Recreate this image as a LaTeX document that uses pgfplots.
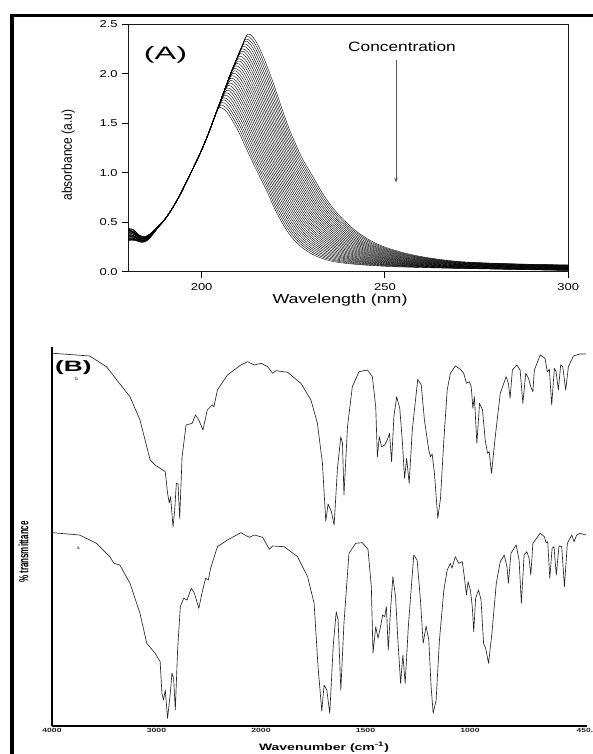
\documentclass[border=0pt]{standalone}
\usepackage{fontspec}
\setmainfont{Liberation Sans}
\usepackage{graphicx}
\usepackage{pgfplots}
\pgfplotsset{compat=1.18}
\usetikzlibrary{arrows.meta}
\newcommand{\hs}[2]{\scalebox{#1}[1]{#2}}
\tikzset{uv/.style={black, line width=0.4pt, smooth, tension=0.55},
         ir/.style={black!85, line width=0.65pt, line join=round}}
\begin{document}
\begin{tikzpicture}[x=1pt,y=1pt]

% ---------------- Panel A ----------------
\begin{axis}[at={(128.3pt,482.3pt)}, anchor=south west, scale only axis,
  width=440pt, height=247.4pt,
  xmin=180, xmax=300, ymin=0, ymax=2.5,
  xtick={200,250,300}, xticklabels={\hs{1.3}{200},\hs{1.3}{250},\hs{1.3}{300}},
  ytick={0,0.5,1,1.5,2,2.5},
  yticklabels={\hs{1.3}{0.0},\hs{1.3}{0.5},\hs{1.3}{1.0},\hs{1.3}{1.5},\hs{1.3}{2.0},\hs{1.3}{2.5}},
  tick align=outside, major tick length=6.5pt,
  xtick pos=lower, ytick pos=left,
  tick style={line width=1pt, black},
  axis line style={line width=1.2pt, black!90},
  tick label style={font=\fontsize{10}{12}\selectfont},
  xticklabel style={yshift=-2pt},
  yticklabel style={inner sep=4pt},
]
% main family
\addplot[uv] coordinates {(180,0.323)(181.5,0.335)(183,0.307)(184.5,0.306)(186,0.349)(188,0.442)(190,0.53)(192,0.64)(194,0.77)(196,0.92)(198,1.07)(200,1.23)(202,1.41)(204,1.61)(205,1.660)(206.5,1.630)(208,1.550)(210,1.420)(212,1.260)(214,1.100)(216,0.950)(218,0.800)(220,0.630)(223,0.430)(226,0.290)(230,0.180)(235,0.110)(241,0.078)(250,0.055)(262,0.040)(277,0.028)(300,0.012)};
\addplot[uv] coordinates {(180,0.427)(181.5,0.395)(183,0.363)(184.5,0.350)(186,0.381)(188,0.454)(190,0.53)(192,0.64)(194,0.77)(196,0.92)(198,1.07)(200,1.23)(202,1.41)(204,1.61)(205.5,1.709)(207,1.679)(208.5,1.599)(210.5,1.466)(212.5,1.303)(214.5,1.139)(216.5,0.985)(218.5,0.833)(220.5,0.664)(223.5,0.465)(226.5,0.321)(230.5,0.206)(235.5,0.129)(241.5,0.091)(250.5,0.063)(262.5,0.044)(277.5,0.031)(300,0.016)};
\addplot[uv] coordinates {(180,0.362)(181.5,0.365)(183,0.328)(184.5,0.322)(186,0.361)(188,0.446)(190,0.53)(192,0.64)(194,0.77)(196,0.92)(198,1.07)(200,1.23)(202,1.41)(204,1.61)(205,1.71)(206,1.759)(207.5,1.729)(209,1.647)(211,1.512)(213,1.347)(215,1.179)(217,1.021)(219,0.867)(221,0.698)(224,0.499)(227,0.353)(231,0.232)(236,0.149)(242,0.104)(251,0.070)(263,0.049)(278,0.035)(300,0.019)};
\addplot[uv] coordinates {(180,0.401)(181.5,0.375)(183,0.349)(184.5,0.339)(186,0.373)(188,0.451)(190,0.53)(192,0.64)(194,0.77)(196,0.92)(198,1.07)(200,1.23)(202,1.41)(204,1.61)(205,1.71)(206.5,1.808)(208,1.778)(209.5,1.696)(211.5,1.558)(213.5,1.390)(215.5,1.218)(217.5,1.056)(219.5,0.900)(221.5,0.732)(224.5,0.534)(227.5,0.384)(231.5,0.258)(236.5,0.168)(242.5,0.116)(251.5,0.078)(263.5,0.053)(278.5,0.038)(300,0.023)};
\addplot[uv] coordinates {(180,0.310)(181.5,0.325)(183,0.300)(184.5,0.300)(186,0.345)(188,0.440)(190,0.53)(192,0.64)(194,0.77)(196,0.92)(198,1.07)(200,1.23)(202,1.41)(204,1.61)(205,1.71)(206,1.81)(207,1.857)(208.5,1.827)(210,1.745)(212,1.604)(214,1.433)(216,1.257)(218,1.091)(220,0.933)(222,0.766)(225,0.569)(228,0.415)(232,0.284)(237,0.187)(243,0.129)(252,0.086)(264,0.057)(279,0.042)(300,0.027)};
\addplot[uv] coordinates {(180,0.382)(181.5,0.360)(183,0.339)(184.5,0.330)(186,0.367)(188,0.448)(190,0.53)(192,0.64)(194,0.77)(196,0.92)(198,1.07)(200,1.23)(202,1.41)(204,1.61)(205,1.71)(206,1.81)(207.5,1.907)(209,1.877)(210.5,1.793)(212.5,1.650)(214.5,1.477)(216.5,1.297)(218.5,1.127)(220.5,0.967)(222.5,0.800)(225.5,0.603)(228.5,0.447)(232.5,0.310)(237.5,0.207)(243.5,0.142)(252.5,0.093)(264.5,0.062)(279.5,0.045)(300,0.031)};
\addplot[uv] coordinates {(180,0.440)(181.5,0.425)(183,0.370)(184.5,0.355)(186,0.385)(188,0.455)(190,0.53)(192,0.64)(194,0.77)(196,0.92)(198,1.07)(200,1.23)(202,1.41)(204,1.61)(205,1.71)(206,1.81)(207,1.91)(208,1.956)(209.5,1.926)(211,1.842)(213,1.696)(215,1.520)(217,1.336)(219,1.162)(221,1.000)(223,0.834)(226,0.638)(229,0.478)(233,0.336)(238,0.226)(244,0.155)(253,0.101)(265,0.066)(280,0.049)(300,0.034)};
\addplot[uv] coordinates {(180,0.343)(181.5,0.330)(183,0.318)(184.5,0.314)(186,0.355)(188,0.444)(190,0.53)(192,0.64)(194,0.77)(196,0.92)(198,1.07)(200,1.23)(202,1.41)(204,1.61)(205,1.71)(206,1.81)(207,1.91)(208.5,2.005)(210,1.975)(211.5,1.891)(213.5,1.742)(215.5,1.563)(217.5,1.375)(219.5,1.197)(221.5,1.033)(223.5,0.868)(226.5,0.673)(229.5,0.509)(233.5,0.362)(238.5,0.245)(244.5,0.168)(253.5,0.109)(265.5,0.070)(280.5,0.052)(300,0.038)};
\addplot[uv] coordinates {(180,0.414)(181.5,0.405)(183,0.356)(184.5,0.344)(186,0.377)(188,0.452)(190,0.53)(192,0.64)(194,0.77)(196,0.92)(198,1.07)(200,1.23)(202,1.41)(204,1.61)(205,1.71)(206,1.81)(207,1.91)(208,2.01)(209,2.055)(210.5,2.025)(212,1.939)(214,1.788)(216,1.607)(218,1.415)(220,1.233)(222,1.067)(224,0.902)(227,0.707)(230,0.541)(234,0.388)(239,0.265)(245,0.180)(254,0.116)(266,0.075)(281,0.056)(300,0.042)};
\addplot[uv] coordinates {(180,0.356)(181.5,0.340)(183,0.325)(184.5,0.319)(186,0.359)(188,0.445)(190,0.53)(192,0.64)(194,0.77)(196,0.92)(198,1.07)(200,1.23)(202,1.41)(204,1.61)(205,1.71)(206,1.81)(207,1.91)(208,2.01)(209.5,2.104)(211,2.074)(212.5,1.988)(214.5,1.834)(216.5,1.650)(218.5,1.454)(220.5,1.268)(222.5,1.100)(224.5,0.936)(227.5,0.742)(230.5,0.572)(234.5,0.414)(239.5,0.284)(245.5,0.193)(254.5,0.124)(266.5,0.079)(281.5,0.059)(300,0.046)};
\addplot[uv] coordinates {(180,0.388)(181.5,0.385)(183,0.342)(184.5,0.333)(186,0.369)(188,0.449)(190,0.53)(192,0.64)(194,0.77)(196,0.92)(198,1.07)(200,1.23)(202,1.41)(204,1.61)(205,1.71)(206,1.81)(207,1.91)(208,2.01)(209,2.10)(210,2.153)(211.5,2.123)(213,2.037)(215,1.880)(217,1.693)(219,1.493)(221,1.303)(223,1.133)(225,0.970)(228,0.777)(231,0.603)(235,0.440)(240,0.303)(246,0.206)(255,0.132)(267,0.083)(282,0.063)(300,0.049)};
\addplot[uv] coordinates {(180,0.330)(181.5,0.320)(183,0.311)(184.5,0.308)(186,0.351)(188,0.442)(190,0.53)(192,0.64)(194,0.77)(196,0.92)(198,1.07)(200,1.23)(202,1.41)(204,1.61)(205,1.71)(206,1.81)(207,1.91)(208,2.01)(209,2.10)(210.5,2.203)(212,2.173)(213.5,2.085)(215.5,1.926)(217.5,1.737)(219.5,1.533)(221.5,1.339)(223.5,1.167)(225.5,1.004)(228.5,0.811)(231.5,0.635)(235.5,0.466)(240.5,0.323)(246.5,0.219)(255.5,0.139)(267.5,0.088)(282.5,0.066)(300,0.053)};
\addplot[uv] coordinates {(180,0.434)(181.5,0.420)(183,0.367)(184.5,0.352)(186,0.383)(188,0.454)(190,0.53)(192,0.64)(194,0.77)(196,0.92)(198,1.07)(200,1.23)(202,1.41)(204,1.61)(205,1.71)(206,1.81)(207,1.91)(208,2.01)(209,2.10)(210,2.19)(211,2.252)(212.5,2.222)(214,2.134)(216,1.972)(218,1.780)(220,1.572)(222,1.374)(224,1.200)(226,1.038)(229,0.846)(232,0.666)(236,0.492)(241,0.342)(247,0.232)(256,0.147)(268,0.092)(283,0.070)(300,0.057)};
\addplot[uv] coordinates {(180,0.369)(181.5,0.350)(183,0.332)(184.5,0.325)(186,0.363)(188,0.447)(190,0.53)(192,0.64)(194,0.77)(196,0.92)(198,1.07)(200,1.23)(202,1.41)(204,1.61)(205,1.71)(206,1.81)(207,1.91)(208,2.01)(209,2.10)(210,2.19)(211.5,2.301)(213,2.271)(214.5,2.183)(216.5,2.018)(218.5,1.823)(220.5,1.611)(222.5,1.409)(224.5,1.233)(226.5,1.072)(229.5,0.881)(232.5,0.697)(236.5,0.518)(241.5,0.361)(247.5,0.244)(256.5,0.155)(268.5,0.096)(283.5,0.073)(300,0.060)};
\addplot[uv] coordinates {(180,0.408)(181.5,0.400)(183,0.353)(184.5,0.341)(186,0.375)(188,0.451)(190,0.53)(192,0.64)(194,0.77)(196,0.92)(198,1.07)(200,1.23)(202,1.41)(204,1.61)(205,1.71)(206,1.81)(207,1.91)(208,2.01)(209,2.10)(210,2.19)(211,2.28)(212,2.351)(213.5,2.321)(215,2.231)(217,2.064)(219,1.867)(221,1.651)(223,1.445)(225,1.267)(227,1.106)(230,0.915)(233,0.729)(237,0.544)(242,0.381)(248,0.257)(257,0.162)(269,0.101)(284,0.077)(300,0.064)};
\addplot[uv] coordinates {(180,0.336)(181.5,0.325)(183,0.314)(184.5,0.311)(186,0.353)(188,0.443)(190,0.53)(192,0.64)(194,0.77)(196,0.92)(198,1.07)(200,1.23)(202,1.41)(204,1.61)(205,1.71)(206,1.81)(207,1.91)(208,2.01)(209,2.10)(210,2.19)(211,2.28)(212.5,2.400)(214,2.370)(215.5,2.280)(217.5,2.110)(219.5,1.910)(221.5,1.690)(223.5,1.480)(225.5,1.300)(227.5,1.140)(230.5,0.950)(233.5,0.760)(237.5,0.570)(242.5,0.400)(248.5,0.270)(257.5,0.170)(269.5,0.105)(284.5,0.080)(300,0.068)};
% intermediate spectra
\addplot[uv] coordinates {(180,0.388)(181.5,0.365)(183,0.342)(184.5,0.333)(186,0.369)(188,0.449)(190,0.53)(192,0.64)(194,0.77)(196,0.92)(198,1.07)(200,1.23)(202,1.41)(204,1.61)(205.25,1.685)(206.75,1.655)(208.25,1.574)(210.25,1.443)(212.25,1.282)(214.25,1.120)(216.25,0.968)(218.25,0.817)(220.25,0.647)(223.25,0.447)(226.25,0.306)(230.25,0.193)(235.25,0.120)(241.25,0.084)(250.25,0.059)(262.25,0.042)(277.25,0.030)(300,0.014)};
\addplot[uv] coordinates {(180,0.349)(181.5,0.355)(183,0.321)(184.5,0.317)(186,0.357)(188,0.445)(190,0.53)(192,0.64)(194,0.77)(196,0.92)(198,1.07)(200,1.23)(202,1.41)(204,1.61)(205.75,1.734)(207.25,1.704)(208.75,1.623)(210.75,1.489)(212.75,1.325)(214.75,1.159)(216.75,1.003)(218.75,0.850)(220.75,0.681)(223.75,0.482)(226.75,0.337)(230.75,0.219)(235.75,0.139)(241.75,0.097)(250.75,0.067)(262.75,0.046)(277.75,0.033)(300,0.018)};
\addplot[uv] coordinates {(180,0.421)(181.5,0.390)(183,0.360)(184.5,0.347)(186,0.379)(188,0.453)(190,0.53)(192,0.64)(194,0.77)(196,0.92)(198,1.07)(200,1.23)(202,1.41)(204,1.61)(205,1.71)(206.25,1.784)(207.75,1.754)(209.25,1.671)(211.25,1.535)(213.25,1.369)(215.25,1.199)(217.25,1.039)(219.25,0.884)(221.25,0.715)(224.25,0.516)(227.25,0.369)(231.25,0.245)(236.25,0.159)(242.25,0.110)(251.25,0.074)(263.25,0.051)(278.25,0.037)(300,0.021)};
\addplot[uv] coordinates {(180,0.317)(181.5,0.330)(183,0.304)(184.5,0.303)(186,0.347)(188,0.441)(190,0.53)(192,0.64)(194,0.77)(196,0.92)(198,1.07)(200,1.23)(202,1.41)(204,1.61)(205,1.71)(206.75,1.833)(208.25,1.803)(209.75,1.720)(211.75,1.581)(213.75,1.412)(215.75,1.238)(217.75,1.074)(219.75,0.917)(221.75,0.749)(224.75,0.551)(227.75,0.400)(231.75,0.271)(236.75,0.178)(242.75,0.122)(251.75,0.082)(263.75,0.055)(278.75,0.040)(300,0.025)};
\addplot[uv] coordinates {(180,0.375)(181.5,0.355)(183,0.335)(184.5,0.328)(186,0.365)(188,0.448)(190,0.53)(192,0.64)(194,0.77)(196,0.92)(198,1.07)(200,1.23)(202,1.41)(204,1.61)(205,1.71)(206,1.81)(207.25,1.882)(208.75,1.852)(210.25,1.769)(212.25,1.627)(214.25,1.455)(216.25,1.277)(218.25,1.109)(220.25,0.950)(222.25,0.783)(225.25,0.586)(228.25,0.431)(232.25,0.297)(237.25,0.197)(243.25,0.135)(252.25,0.090)(264.25,0.059)(279.25,0.044)(300,0.029)};
\addplot[uv] coordinates {(180,0.401)(181.5,0.395)(183,0.349)(184.5,0.339)(186,0.373)(188,0.451)(190,0.53)(192,0.64)(194,0.77)(196,0.92)(198,1.07)(200,1.23)(202,1.41)(204,1.61)(205,1.71)(206,1.81)(207.75,1.932)(209.25,1.902)(210.75,1.817)(212.75,1.673)(214.75,1.499)(216.75,1.317)(218.75,1.145)(220.75,0.984)(222.75,0.817)(225.75,0.620)(228.75,0.463)(232.75,0.323)(237.75,0.217)(243.75,0.148)(252.75,0.097)(264.75,0.064)(279.75,0.047)(300,0.033)};
\addplot[uv] coordinates {(180,0.336)(181.5,0.325)(183,0.314)(184.5,0.311)(186,0.353)(188,0.443)(190,0.53)(192,0.64)(194,0.77)(196,0.92)(198,1.07)(200,1.23)(202,1.41)(204,1.61)(205,1.71)(206,1.81)(207,1.91)(208.25,1.981)(209.75,1.951)(211.25,1.866)(213.25,1.719)(215.25,1.542)(217.25,1.356)(219.25,1.180)(221.25,1.017)(223.25,0.851)(226.25,0.655)(229.25,0.494)(233.25,0.349)(238.25,0.236)(244.25,0.161)(253.25,0.105)(265.25,0.068)(280.25,0.051)(300,0.036)};
\addplot[uv] coordinates {(180,0.427)(181.5,0.415)(183,0.363)(184.5,0.350)(186,0.381)(188,0.454)(190,0.53)(192,0.64)(194,0.77)(196,0.92)(198,1.07)(200,1.23)(202,1.41)(204,1.61)(205,1.71)(206,1.81)(207,1.91)(208.75,2.030)(210.25,2.000)(211.75,1.915)(213.75,1.765)(215.75,1.585)(217.75,1.395)(219.75,1.215)(221.75,1.050)(223.75,0.885)(226.75,0.690)(229.75,0.525)(233.75,0.375)(238.75,0.255)(244.75,0.174)(253.75,0.113)(265.75,0.072)(280.75,0.054)(300,0.040)};
\addplot[uv] coordinates {(180,0.362)(181.5,0.345)(183,0.328)(184.5,0.322)(186,0.361)(188,0.446)(190,0.53)(192,0.64)(194,0.77)(196,0.92)(198,1.07)(200,1.23)(202,1.41)(204,1.61)(205,1.71)(206,1.81)(207,1.91)(208,2.01)(209.25,2.080)(210.75,2.050)(212.25,1.963)(214.25,1.811)(216.25,1.629)(218.25,1.435)(220.25,1.251)(222.25,1.084)(224.25,0.919)(227.25,0.724)(230.25,0.557)(234.25,0.401)(239.25,0.275)(245.25,0.186)(254.25,0.120)(266.25,0.077)(281.25,0.058)(300,0.044)};
\addplot[uv] coordinates {(180,0.395)(181.5,0.390)(183,0.346)(184.5,0.336)(186,0.371)(188,0.450)(190,0.53)(192,0.64)(194,0.77)(196,0.92)(198,1.07)(200,1.23)(202,1.41)(204,1.61)(205,1.71)(206,1.81)(207,1.91)(208,2.01)(209.75,2.129)(211.25,2.099)(212.75,2.012)(214.75,1.857)(216.75,1.672)(218.75,1.474)(220.75,1.286)(222.75,1.117)(224.75,0.953)(227.75,0.759)(230.75,0.588)(234.75,0.427)(239.75,0.294)(245.75,0.199)(254.75,0.128)(266.75,0.081)(281.75,0.061)(300,0.048)};
\addplot[uv] coordinates {(180,0.323)(181.5,0.315)(183,0.307)(184.5,0.306)(186,0.349)(188,0.442)(190,0.53)(192,0.64)(194,0.77)(196,0.92)(198,1.07)(200,1.23)(202,1.41)(204,1.61)(205,1.71)(206,1.81)(207,1.91)(208,2.01)(209,2.10)(210.25,2.178)(211.75,2.148)(213.25,2.061)(215.25,1.903)(217.25,1.715)(219.25,1.513)(221.25,1.321)(223.25,1.150)(225.25,0.987)(228.25,0.794)(231.25,0.619)(235.25,0.453)(240.25,0.313)(246.25,0.212)(255.25,0.136)(267.25,0.085)(282.25,0.065)(300,0.051)};
\addplot[uv] coordinates {(180,0.414)(181.5,0.405)(183,0.356)(184.5,0.344)(186,0.377)(188,0.452)(190,0.53)(192,0.64)(194,0.77)(196,0.92)(198,1.07)(200,1.23)(202,1.41)(204,1.61)(205,1.71)(206,1.81)(207,1.91)(208,2.01)(209,2.10)(210.75,2.228)(212.25,2.198)(213.75,2.109)(215.75,1.949)(217.75,1.759)(219.75,1.553)(221.75,1.357)(223.75,1.184)(225.75,1.021)(228.75,0.828)(231.75,0.651)(235.75,0.479)(240.75,0.333)(246.75,0.225)(255.75,0.143)(267.75,0.090)(282.75,0.068)(300,0.055)};
\addplot[uv] coordinates {(180,0.349)(181.5,0.335)(183,0.321)(184.5,0.317)(186,0.357)(188,0.445)(190,0.53)(192,0.64)(194,0.77)(196,0.92)(198,1.07)(200,1.23)(202,1.41)(204,1.61)(205,1.71)(206,1.81)(207,1.91)(208,2.01)(209,2.10)(210,2.19)(211.25,2.277)(212.75,2.247)(214.25,2.158)(216.25,1.995)(218.25,1.802)(220.25,1.592)(222.25,1.392)(224.25,1.217)(226.25,1.055)(229.25,0.863)(232.25,0.682)(236.25,0.505)(241.25,0.352)(247.25,0.238)(256.25,0.151)(268.25,0.094)(283.25,0.072)(300,0.059)};
\addplot[uv] coordinates {(180,0.382)(181.5,0.380)(183,0.339)(184.5,0.330)(186,0.367)(188,0.448)(190,0.53)(192,0.64)(194,0.77)(196,0.92)(198,1.07)(200,1.23)(202,1.41)(204,1.61)(205,1.71)(206,1.81)(207,1.91)(208,2.01)(209,2.10)(210,2.19)(211.75,2.326)(213.25,2.296)(214.75,2.207)(216.75,2.041)(218.75,1.845)(220.75,1.631)(222.75,1.427)(224.75,1.250)(226.75,1.089)(229.75,0.898)(232.75,0.713)(236.75,0.531)(241.75,0.371)(247.75,0.250)(256.75,0.159)(268.75,0.098)(283.75,0.075)(300,0.062)};
\addplot[uv] coordinates {(180,0.434)(181.5,0.400)(183,0.367)(184.5,0.352)(186,0.383)(188,0.454)(190,0.53)(192,0.64)(194,0.77)(196,0.92)(198,1.07)(200,1.23)(202,1.41)(204,1.61)(205,1.71)(206,1.81)(207,1.91)(208,2.01)(209,2.10)(210,2.19)(211,2.28)(212.25,2.376)(213.75,2.346)(215.25,2.255)(217.25,2.087)(219.25,1.889)(221.25,1.671)(223.25,1.463)(225.25,1.284)(227.25,1.123)(230.25,0.932)(233.25,0.745)(237.25,0.557)(242.25,0.391)(248.25,0.263)(257.25,0.166)(269.25,0.103)(284.25,0.079)(300,0.066)};
\end{axis}

% ---------------- Panel B ----------------
\begin{axis}[at={(52pt,28pt)}, anchor=south west, scale only axis,
  width=535pt, height=379pt,
  x coord trafo/.code={\pgfmathparse{ifthenelse(#1>=2000,(4000-#1)/1000,2+(2000-#1)/500)}},
  xmin=4000, xmax=440, ymin=0, ymax=379,
  axis lines*=left,
  axis line style={line width=2.2pt, black},
  ytick=\empty,
  xtick={4000,3000,2000,1500,1000,450},
  xticklabels={\hs{1.45}{4000},\hs{1.45}{3000},\hs{1.45}{2000},\hs{1.45}{1500},\hs{1.45}{1000},\hs{1.4}{450.}},
  major tick length=0pt,
  xticklabel style={font=\bfseries\fontsize{6}{7}\selectfont, text=black!85, inner sep=0pt, yshift=-2pt},
]
\addplot[ir] coordinates {(3990,372.7)(3640,370)(3479,359.3)(3367,344.3)(3254,329.3)(3158,306)(3061,266)(3013,261)(2916,254.3)(2894,233)(2878,223)(2865,229.3)(2842,199.3)(2827,214.3)(2810,242.7)(2794,242)(2778,207.7)(2755,269.3)(2717,301)(2659,302.7)(2627,311)(2595,306)(2556,296)(2514,316)(2466,321)(2450,319.3)(2417,336)(2321,351)(2193,361)(2128,364.3)(2064,361)(2000,362.7)(1968,359.3)(1944,352.7)(1928,355.3)(1873,353.7)(1809,342.7)(1761,326)(1730,302.7)(1706,262.7)(1690,205)(1679,222)(1663,214.3)(1650,201)(1634,258)(1618,289.3)(1610,282.7)(1603,231)(1586,299.3)(1563,339.3)(1531,354.3)(1491,356)(1467,349.3)(1451,319.3)(1443,269.3)(1434,289.3)(1423,279.3)(1408,281)(1396,286)(1385,292.7)(1375,264.3)(1364,309.3)(1351,329.3)(1336,317.7)(1324,286)(1313,247.7)(1303,267.7)(1291,242.7)(1276,296)(1250,346.7)(1233,341)(1218,306)(1197,276)(1189,269.3)(1181,272)(1170,252.7)(1154,207.7)(1141,227.7)(1125,286)(1109,336)(1094,352.7)(1070,360)(1046,356.7)(1030,352.7)(1017,342.7)(1003,344.3)(994,339.3)(986,317.7)(979,329.3)(967,282.7)(954,322.7)(940,316)(927,286)(916,272.7)(908,274.3)(897,252.7)(879,289.3)(855,332.7)(827,349.3)(816,342.7)(808,327.7)(797,356)(776,361)(760,356)(747,322.7)(733,352.7)(720,347.7)(709,339.3)(699,334.3)(692,356)(664,371)(641,367.7)(630,354.3)(620,356.7)(609,321)(596,357.7)(588,354.3)(577,336)(566,361)(556,359.3)(542,336)(529,359.3)(505,370)(474,372)(445,372)};
\addplot[ir] coordinates {(3994,193.3)(3737,191)(3575,182.7)(3447,169.3)(3408,162.7)(3351,161)(3254,142.7)(3158,112.7)(3093,82.7)(3013,72.7)(2965,64.3)(2948,32.7)(2933,26)(2916,36)(2894,7.7)(2868,32.7)(2852,52.7)(2836,47.7)(2820,16)(2798,76)(2772,119.3)(2740,127.7)(2707,126)(2668,137.7)(2636,132.7)(2595,117.7)(2562,134.3)(2530,147.7)(2504,146)(2482,157.7)(2417,179.3)(2321,186)(2193,193.3)(2112,188.7)(2064,191)(1992,188.7)(1960,176.7)(1944,180)(1889,179.3)(1825,169.3)(1777,149.3)(1746,123)(1727,59.3)(1709,15)(1698,41)(1685,36)(1671,12.7)(1654,81)(1640,114.3)(1631,106)(1618,36)(1603,102.7)(1579,172.7)(1547,182.7)(1515,183.3)(1488,176.7)(1472,139.3)(1464,72.7)(1451,99.3)(1440,87.7)(1428,99.3)(1418,111)(1408,109.3)(1400,119.3)(1391,76)(1380,116)(1369,149.3)(1356,129.3)(1345,86)(1332,42.7)(1321,71)(1310,42.7)(1295,99.3)(1269,171)(1253,166)(1237,126)(1224,82.7)(1210,100)(1197,86)(1186,39.3)(1176,12.7)(1162,26)(1146,86)(1125,136)(1109,156)(1094,162.7)(1086,157.7)(1070,169.3)(1054,162.7)(1037,164.3)(1027,149.3)(1017,131)(1009,144.3)(998,136)(989,119.3)(982,94.3)(973,127.7)(959,136)(947,126)(935,82.7)(925,77.7)(911,62.7)(895,92.7)(874,142.7)(855,164.3)(836,171)(823,159.3)(816,142.7)(804,172.7)(779,181)(765,166)(754,122.7)(741,171)(728,174.3)(717,167.7)(709,151)(699,182.7)(664,192.7)(644,189.3)(636,183.3)(628,184.3)(618,147.7)(607,177.7)(598,179.3)(587,151)(574,180)(561,179.3)(548,139.3)(534,182.7)(513,191)(502,184.3)(489,191)(474,192.7)(445,191)};
\end{axis}

\node[font=\fontsize{18}{21}\selectfont] at (165.5,699) {\hs{1.8}{(A)}};
\node[font=\fontsize{13.5}{16}\selectfont] at (402,707.3) {\hs{1.28}{Concentration}};
\draw[black!65, line width=0.8pt, -{Stealth[length=5pt,width=3.5pt]}] (396,694) -- (396,571.3);
\node[font=\fontsize{12}{14}\selectfont] at (68.3,599) {\scalebox{1.18}[1]{\rotatebox{90}{absorbance (a.u)}}};
\node[font=\fontsize{13}{15}\selectfont] at (340,453.5) {\hs{1.37}{Wavelength (nm)}};

\node[font=\bfseries\fontsize{15}{18}\selectfont] at (73.3,386.5) {\hs{1.75}{(B)}};
\node[font=\fontsize{4.5}{5}\selectfont] at (76.7,374.7) {b};
\node[font=\fontsize{4.5}{5}\selectfont] at (78.3,206) {a};
\node[font=\bfseries\fontsize{8}{9}\selectfont] at (23.5,202) {\scalebox{1.7}[1]{\rotatebox{90}{\% transmittance}}};
\node[font=\bfseries\fontsize{9.3}{11}\selectfont] at (324,7) {\hs{1.5}{Wavenumber (cm\textsuperscript{-1})}};

\draw[line width=3.5pt] (12,0) -- (12,738.3) -- (593,738.3);
\pgfresetboundingbox
\path[use as bounding box] (0,0) rectangle (593,754);
\end{tikzpicture}
\end{document}
